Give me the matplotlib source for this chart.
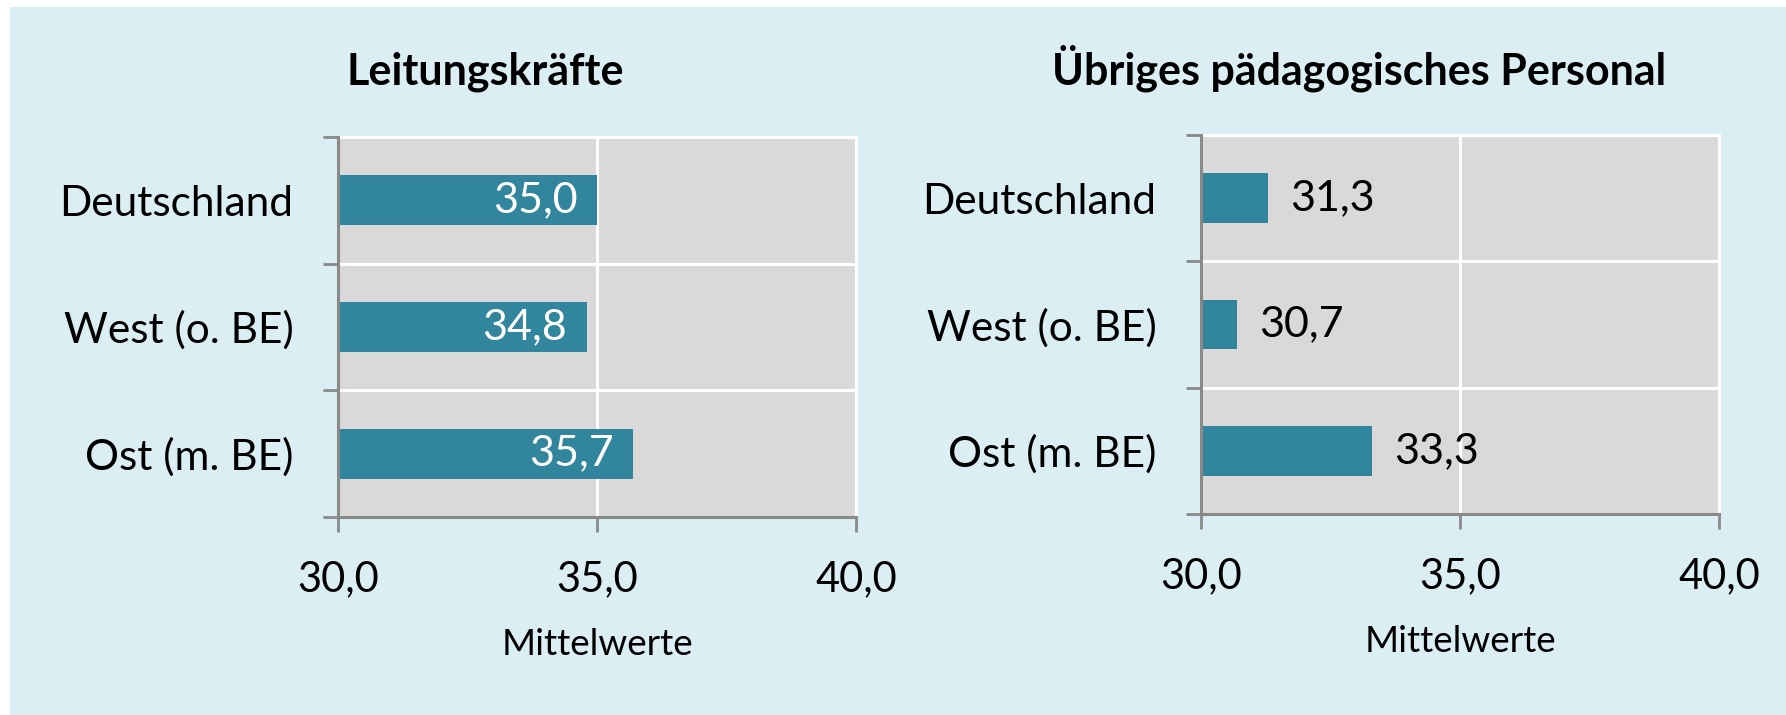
import matplotlib
matplotlib.use("Agg")
import matplotlib.pyplot as plt
from matplotlib.patches import Rectangle
from matplotlib.ticker import FixedLocator

categories = ["Deutschland", "West (o. BE)", "Ost (m. BE)"]
leitung_values = [35.0, 34.8, 35.7]
personal_values = [31.3, 30.7, 33.3]
titles = ["Leitungskräfte", "Übriges pädagogisches Personal"]
x_ticks = [30.0, 35.0, 40.0]
x_tick_labels = ["30,0", "35,0", "40,0"]
x_label = "Mittelwerte"

FONT = "Lato"
plt.rcParams["font.family"] = [FONT, "DejaVu Sans"]

BG = "#DBEEF4"
PLOT_BG = "#D9D9D9"
BAR = "#31859C"
SPINE = "#898989"

W, H = 1786, 715
fig = plt.figure(figsize=(W / 100, H / 100), dpi=100)
fig.patch.set_facecolor("white")
fig.patches.append(Rectangle((10 / W, 0), 1 - 10 / W, 1 - 7 / H, transform=fig.transFigure,
                             facecolor=BG, edgecolor="none", zorder=-10))

def fmt(v):
    return f"{v:.1f}".replace(".", ",")

def make_panel(rect, values, inside, title, title_x):
    ax = fig.add_axes(rect)
    ax.set_facecolor(PLOT_BG)
    n = len(categories)
    ypos = list(range(n))
    bars = ax.barh(ypos, [v - x_ticks[0] for v in values], left=x_ticks[0], height=0.395,
                   color=BAR, zorder=3)
    ax.set_xlim(x_ticks[0], x_ticks[-1])
    ax.set_ylim(n - 0.5, -0.5)
    ax.set_yticks(ypos)
    ax.set_yticklabels(categories, fontsize=30.5)
    ax.yaxis.set_minor_locator(FixedLocator([i - 0.5 for i in range(n + 1)]))
    ax.tick_params(axis="y", which="major", length=0, pad=32)
    ax.tick_params(axis="y", which="minor", length=10.8, width=2, color=SPINE)
    ax.set_xticks(x_ticks)
    ax.set_xticklabels(x_tick_labels, fontsize=30)
    ax.tick_params(axis="x", which="major", length=10.8, width=2, color=SPINE, pad=20)
    ax.grid(True, axis="x", which="major", color="white", linewidth=2.2, zorder=1)
    ax.grid(True, axis="y", which="minor", color="white", linewidth=2.2, zorder=1)
    ax.set_axisbelow(True)
    for s in ["left", "bottom"]:
        ax.spines[s].set_color(SPINE)
        ax.spines[s].set_linewidth(2.2)
        ax.spines[s].set_zorder(5)
    for s in ["top", "right"]:
        ax.spines[s].set_color("white")
        ax.spines[s].set_linewidth(2.2)
    ax.set_xlabel(x_label, fontsize=26.5, labelpad=22)
    for b, v in zip(bars, values):
        yc = b.get_y() + b.get_height() / 2
        if inside:
            ax.annotate(fmt(v), (v, yc), xytext=(-14, 0), textcoords="offset points",
                        ha="right", va="center", color="white", fontsize=31, zorder=6)
        else:
            ax.annotate(fmt(v), (v, yc), xytext=(16, 0), textcoords="offset points",
                        ha="left", va="center", color="black", fontsize=31, zorder=6)
    fig.text(title_x / W, 1 - 84 / H, title, ha="center", va="baseline",
             fontsize=31, fontweight="bold")
    return ax

make_panel([338 / W, 1 - 517 / H, 518 / W, 380 / H], leitung_values, True, titles[0], 485)
make_panel([1201 / W, 1 - 514 / H, 518 / W, 379 / H], personal_values, False, titles[1], 1359)

fig.savefig("out.png", dpi=100, facecolor=fig.get_facecolor())
